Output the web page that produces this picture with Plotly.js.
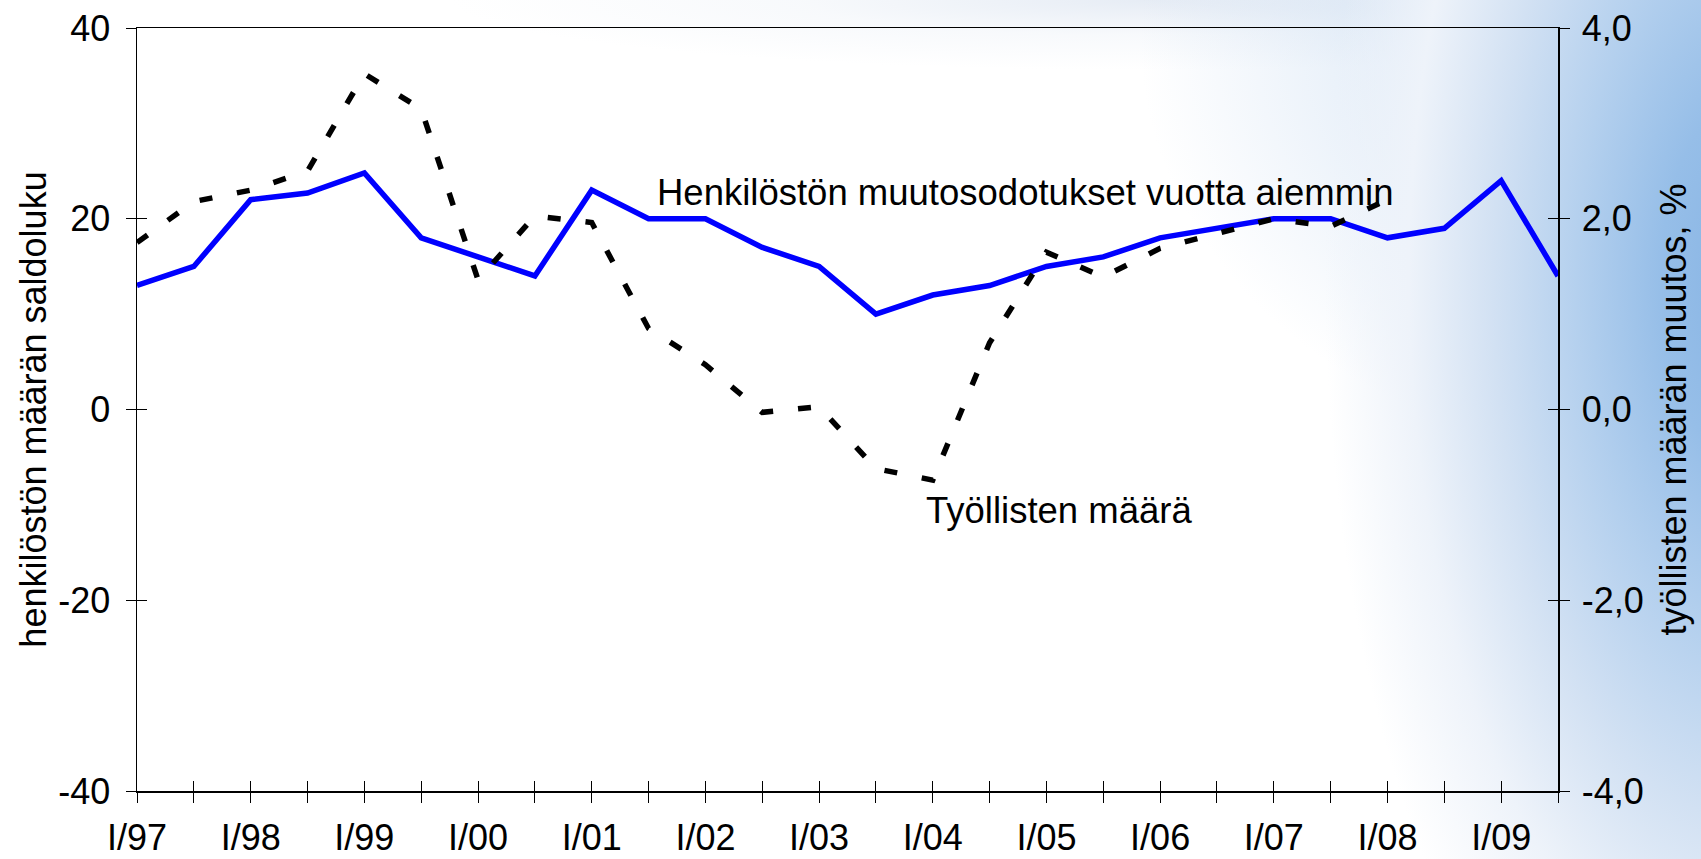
<!DOCTYPE html>
<html>
<head>
<meta charset="utf-8">
<script src="https://cdn.plot.ly/plotly-3.0.1.min.js"></script>
<style>
  html, body { margin: 0; padding: 0; }
  body {
    width: 1701px; height: 859px; overflow: hidden;
    background:
      radial-gradient(ellipse 420px 900px at 1745px 280px,
        rgb(135,180,228) 0%, rgb(150,190,232) 20%, rgb(180,208,238) 40%,
        rgb(210,225,243) 60%, rgb(238,243,250) 80%, rgba(255,255,255,0) 100%),
      radial-gradient(ellipse 520px 420px at 1660px 40px,
        rgba(165,198,234,0.75) 0%, rgba(195,216,240,0.5) 45%, rgba(255,255,255,0) 100%),
      radial-gradient(ellipse 700px 70px at 1150px 0px,
        rgba(226,233,243,0.85) 0%, rgba(240,244,249,0.5) 50%, rgba(255,255,255,0) 100%),
      #ffffff;
  }
  #chart { width: 1701px; height: 859px; }
</style>
</head>
<body>
<div id="chart"></div>
<script>
// Half-year periods
const periods = ["I/97","II/97","I/98","II/98","I/99","II/99","I/00","II/00","I/01","II/01",
                 "I/02","II/02","I/03","II/03","I/04","II/04","I/05","II/05","I/06","II/06",
                 "I/07","II/07","I/08","II/08","I/09","II/09"];
const xTickLabels = periods.map(p => p.startsWith("I/") ? p : "");

// Henkilöstön muutosodotukset vuotta aiemmin (saldoluku, left axis)
const henkilostoOdotukset = [13, 15, 22, 22.7, 24.8, 18, 16, 14, 23, 20,
                             20, 17, 15, 10, 12, 13, 15, 16, 18, 19,
                             20, 20, 18, 19, 24, 14];

// Työllisten määrä, muutos % (right axis)
const tyollistenMuutos = [1.75, 2.18, 2.30, 2.50, 3.52, 3.15, 1.36, 2.03, 1.96, 0.85,
                          0.47, -0.03, 0.03, -0.62, -0.74, 0.70, 1.65, 1.39, 1.69, 1.85,
                          2.00, 1.92, 2.20, null, null, null];

const leftTicks = [-40, -20, 0, 20, 40];
const leftTickLabels = ["-40", "-20", "0", "20", "40"];
const rightTicks = [-4, -2, 0, 2, 4];
const rightTickLabels = ["-4,0", "-2,0", "0,0", "2,0", "4,0"];

const FONT = "Arial, 'Liberation Sans', sans-serif";
const FS = 36;
const FS_ANN = 36.5;

const traces = [
  {
    x: periods, y: henkilostoOdotukset, xaxis: "x", yaxis: "y",
    type: "scatter", mode: "lines",
    line: { color: "#0000ff", width: 5.5 },
    hoverinfo: "skip", showlegend: false
  },
  {
    x: periods, y: tyollistenMuutos, xaxis: "x", yaxis: "y2",
    type: "scatter", mode: "lines", connectgaps: false,
    line: { color: "#000000", width: 5.5, dash: "13px,25px" },
    hoverinfo: "skip", showlegend: false
  },
  // invisible helper traces so that the tick-only overlay axes exist
  {
    x: periods, y: henkilostoOdotukset, xaxis: "x2", yaxis: "y3",
    type: "scatter", mode: "lines", line: { width: 0 }, opacity: 0,
    hoverinfo: "skip", showlegend: false
  },
  {
    x: periods, y: tyollistenMuutos, xaxis: "x2", yaxis: "y4",
    type: "scatter", mode: "lines", line: { width: 0 }, opacity: 0,
    hoverinfo: "skip", showlegend: false
  }
];

const common = { showgrid: false, zeroline: false, fixedrange: true };

const layout = {
  width: 1701, height: 859,
  margin: { l: 137, r: 143, t: 28, b: 68, pad: 0 },
  paper_bgcolor: "rgba(0,0,0,0)",
  plot_bgcolor: "rgba(0,0,0,0)",
  font: { family: FONT, size: FS, color: "#000" },
  showlegend: false,
  xaxis: Object.assign({}, common, {
    type: "category", range: [0, periods.length - 1],
    tickmode: "array", tickvals: periods, ticktext: xTickLabels,
    ticks: "outside", ticklen: 10, tickwidth: 1, tickcolor: "#000",
    showline: true, linecolor: "#000", linewidth: 1.5, mirror: true,
    tickfont: { family: FONT, size: FS, color: "#000" },
    ticklabelstandoff: 4,
    anchor: "y"
  }),
  xaxis2: Object.assign({}, common, {
    type: "category", range: [0, periods.length - 1], overlaying: "x", anchor: "y",
    side: "bottom",
    tickmode: "array", tickvals: periods, ticktext: xTickLabels,
    ticks: "inside", ticklen: 10, tickwidth: 1, tickcolor: "#000",
    showticklabels: false, showline: false
  }),
  yaxis: Object.assign({}, common, {
    range: [-40, 40], tickmode: "array", tickvals: leftTicks, ticktext: leftTickLabels,
    ticks: "outside", ticklen: 10, tickwidth: 1, tickcolor: "#000",
    showline: true, linecolor: "#000", linewidth: 1.5,
    tickfont: { family: FONT, size: FS, color: "#000" },
    ticklabelstandoff: 8,
    title: { text: "henkilöstön määrän saldoluku", font: { family: FONT, size: FS, color: "#000" }, standoff: 0 },
    automargin: false, anchor: "x"
  }),
  yaxis3: Object.assign({}, common, {
    range: [-40, 40], overlaying: "y", side: "left", anchor: "x",
    tickmode: "array", tickvals: leftTicks,
    ticks: "inside", ticklen: 10, tickwidth: 1, tickcolor: "#000",
    showticklabels: false, showline: false
  }),
  yaxis2: Object.assign({}, common, {
    range: [-4, 4], overlaying: "y", side: "right", anchor: "x",
    tickmode: "array", tickvals: rightTicks, ticktext: rightTickLabels,
    ticks: "outside", ticklen: 10, tickwidth: 1, tickcolor: "#000",
    showline: true, linecolor: "#000", linewidth: 1.5,
    tickfont: { family: FONT, size: FS, color: "#000" },
    ticklabelstandoff: 5,
    title: { text: "työllisten määrän muutos, %", font: { family: FONT, size: FS, color: "#000" }, standoff: 18 },
    automargin: false
  }),
  yaxis4: Object.assign({}, common, {
    range: [-4, 4], overlaying: "y", side: "right", anchor: "x",
    tickmode: "array", tickvals: rightTicks,
    ticks: "inside", ticklen: 10, tickwidth: 1, tickcolor: "#000",
    showticklabels: false, showline: false
  }),
  annotations: [
    {
      text: "Henkilöstön muutosodotukset vuotta aiemmin",
      xref: "x", yref: "y", x: 9.12, y: 22.8, xanchor: "left", yanchor: "middle",
      showarrow: false, font: { family: FONT, size: FS_ANN, color: "#000" }
    },
    {
      text: "Työllisten määrä",
      xref: "x", yref: "y", x: 13.85, y: -10.6, xanchor: "left", yanchor: "middle",
      showarrow: false, font: { family: FONT, size: FS_ANN, color: "#000" }
    }
  ]
};

Plotly.newPlot("chart", traces, layout, { staticPlot: true, displayModeBar: false });
</script>
</body>
</html>
